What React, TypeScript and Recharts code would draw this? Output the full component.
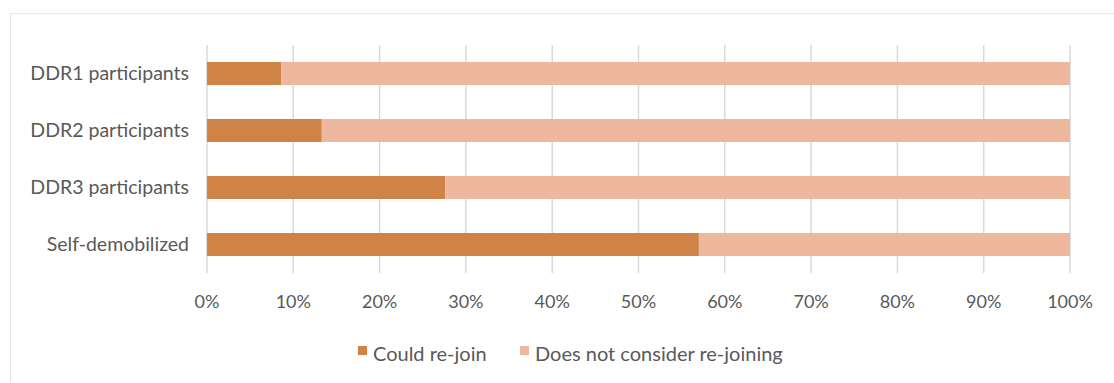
import React from 'react';
import { BarChart, Bar, XAxis, YAxis, CartesianGrid } from 'recharts';

// Survey groups (top to bottom)
const categories = ['DDR1 participants', 'DDR2 participants', 'DDR3 participants', 'Self-demobilized'];
// Share (%) that could re-join
const couldRejoin = [8.6, 13.3, 27.6, 57.0];
// Share (%) that does not consider re-joining
const notConsidering = [91.4, 86.7, 72.4, 43.0];
// Percentage ticks along the value axis
const percentTicks = [0, 10, 20, 30, 40, 50, 60, 70, 80, 90, 100];

const seriesNames = ['Could re-join', 'Does not consider re-joining'];
const colors = ['#D08347', '#EDB89E'];

const data = categories.map((name, i) => ({
  name,
  could: couldRejoin[i],
  not: notConsidering[i],
}));

const FONT = 'Lato, "Noto Sans", sans-serif';
const TEXT = '#595959';

// Legend placed beneath the axis, laid out like an office chart legend
const legendLeft = [358, 520];

export default function App() {
  return (
    <div style={{ position: 'absolute', left: 0, top: 0, width: 1114, height: 383, overflow: 'hidden', background: '#fff' }}>
      <div style={{ position: 'absolute', left: 10, top: 13, width: 1300, height: 600, border: '1.5px solid #e8e8e8', boxSizing: 'border-box' }} />
      <div style={{ position: 'absolute', left: 0, top: 0 }}>
        <BarChart
          width={1114}
          height={383}
          data={data}
          layout="vertical"
          margin={{ top: 45, right: 44, bottom: 80, left: 0 }}
        >
          <CartesianGrid horizontal={false} vertical stroke="#d9d9d9" strokeWidth={1.5} />
          <XAxis
            type="number"
            domain={[0, 100]}
            ticks={percentTicks}
            tickFormatter={(v) => `${v}%`}
            axisLine={false}
            tickLine={false}
            tickMargin={16}
            height={30}
            interval={0}
            tick={{ fill: TEXT, fontSize: 18, fontFamily: FONT }}
          />
          <YAxis
            type="category"
            dataKey="name"
            width={207}
            axisLine={false}
            tickLine={false}
            tickMargin={12}
            interval={0}
            tick={{ fill: TEXT, fontSize: 19.5, fontFamily: FONT }}
          />
          <Bar dataKey="could" stackId="a" fill={colors[0]} barSize={23} isAnimationActive={false} />
          <Bar dataKey="not" stackId="a" fill={colors[1]} barSize={23} isAnimationActive={false} />
        </BarChart>
      </div>
      {seriesNames.map((n, i) => (
        <div
          key={n}
          style={{
            position: 'absolute',
            left: legendLeft[i],
            top: 340,
            display: 'flex',
            alignItems: 'center',
            fontFamily: FONT,
            fontSize: 20,
            color: TEXT,
            whiteSpace: 'nowrap',
            lineHeight: '26px',
          }}
        >
          <span style={{ display: 'inline-block', width: 9, height: 9, background: colors[i], marginRight: 6, marginTop: -5 }} />
          <span>{n}</span>
        </div>
      ))}
    </div>
  );
}
